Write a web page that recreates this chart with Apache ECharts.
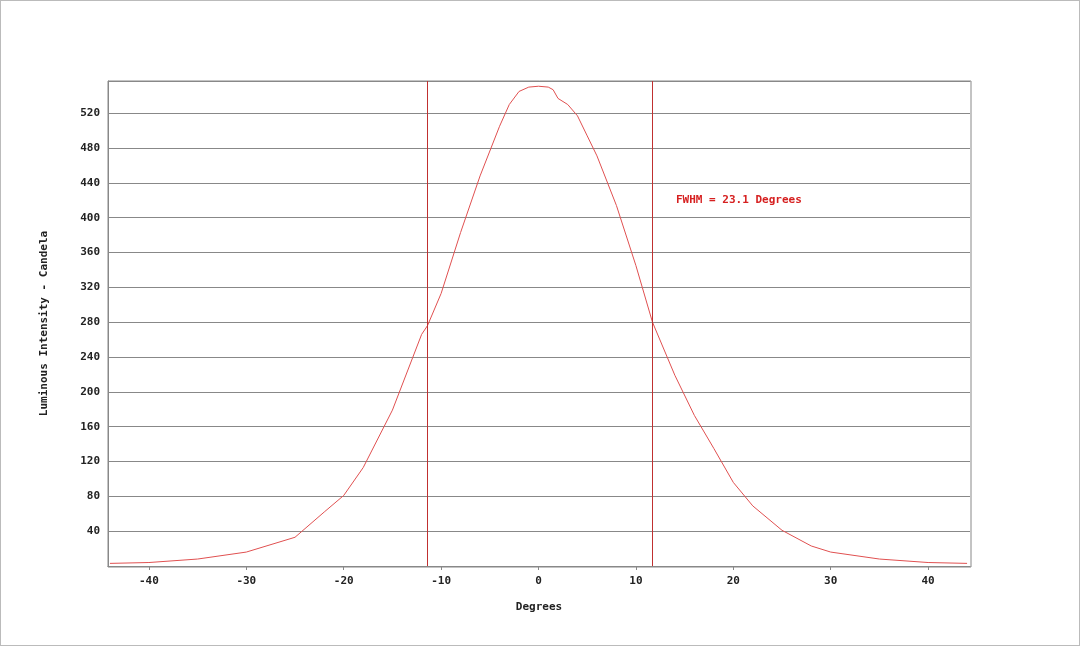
<!DOCTYPE html>
<html><head><meta charset="utf-8">
<script src="https://cdn.jsdelivr.net/npm/echarts@6/dist/echarts.min.js"></script>
<style>html,body{margin:0;padding:0;background:#fff}#c{width:1078px;height:644px;border:1px solid #bbb}</style>
</head><body><div id="c"></div>
<script>
const degrees = [-44,-40,-35,-30,-25,-22,-20,-18,-15,-12,-11.4,-10,-8,-6,-4,-3,-2,-1,0,1,1.5,2,3,4,5,6,8,10,11.7,14,16,18,20,22,25,28,30,35,40,44];
const intensity = [3,4,8,16,33,62,81,113,179,266,276,313,383,448,505,530,545,550,551,550,547,537,530,517,494,471,414,345,280,219,173,135,96,69,41,23,16,8,4,3];
const xTicks = [-40,-30,-20,-10,0,10,20,30,40];
const fwhmLines = [-11.45, 11.65];
const font = "'DejaVu Sans Mono', monospace";
const chart = echarts.init(document.getElementById('c'));
chart.setOption({
  animation:false,
  grid:{left:107,right:109,top:80,bottom:79},
  xAxis:{type:'value',min:-44.2,max:44.3,name:'Degrees',nameLocation:'middle',nameGap:36,
    nameTextStyle:{fontFamily:font,fontWeight:'bold',fontSize:11,color:'#222'},
    axisLine:{show:true,onZero:false,lineStyle:{color:'#888'}},
    axisTick:{show:true,customValues:xTicks,length:4,lineStyle:{color:'#888'}},
    axisLabel:{customValues:xTicks,fontFamily:font,fontWeight:'bold',fontSize:11,color:'#222',margin:10},
    splitLine:{show:false}},
  yAxis:{type:'value',min:0,max:557,interval:40,name:'Luminous Intensity - Candela',nameLocation:'middle',nameGap:58,
    nameTextStyle:{fontFamily:font,fontWeight:'bold',fontSize:11,color:'#222'},
    axisLine:{show:true,onZero:false,lineStyle:{color:'#888'}},axisTick:{show:false},
    axisLabel:{showMaxLabel:false,fontFamily:font,fontWeight:'bold',fontSize:11,color:'#222',formatter:v=>v===0?'':v},
    splitLine:{lineStyle:{color:'#888',width:1}}},
  graphic:[{type:'rect',shape:{x:107,y:80,width:863,height:486},style:{fill:'none',stroke:'#888',lineWidth:1}},
    {type:'text',left:675,top:194,style:{text:'FWHM = 23.1 Degrees',font:'bold 11px '+font,fill:'#d62020'}}],
  series:[{type:'line',data:degrees.map((d,i)=>[d,intensity[i]]),smooth:false,showSymbol:false,
    lineStyle:{color:'#e05050',width:1},
    markLine:{silent:true,symbol:'none',label:{show:false},
      data:fwhmLines.map(v=>({xAxis:v,lineStyle:{color:'#c03030',type:'solid',width:1}}))}}]
});
</script></body></html>
